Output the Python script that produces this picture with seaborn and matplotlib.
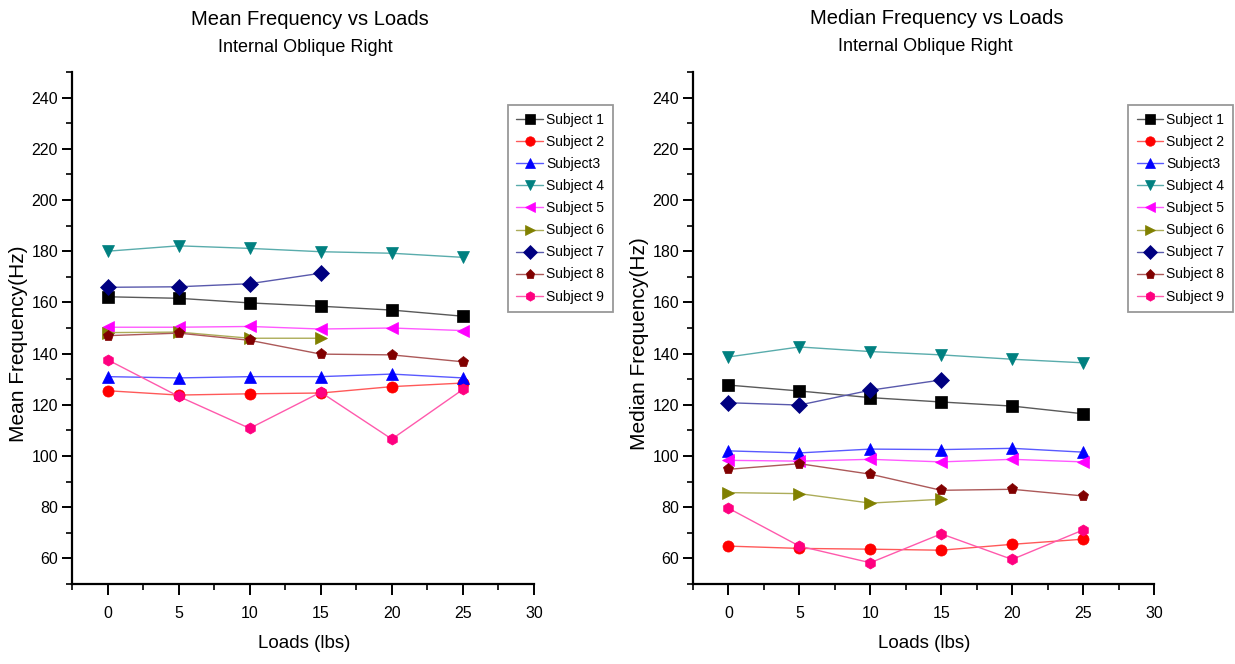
import matplotlib
matplotlib.use("Agg")
import matplotlib.pyplot as plt
from matplotlib.ticker import MultipleLocator
from matplotlib.colors import to_rgb
import seaborn as sns
import pandas as pd

# Loads applied (lbs)
loads = [0, 5, 10, 15, 20, 25]
subjects = ["Subject 1", "Subject 2", "Subject3", "Subject 4", "Subject 5",
            "Subject 6", "Subject 7", "Subject 8", "Subject 9"]

# Mean frequency (Hz) per subject
mean_s1 = [162.2, 161.6, 159.8, 158.5, 157.0, 154.6]
mean_s2 = [125.5, 123.8, 124.3, 124.6, 127.1, 128.5]
mean_s3 = [131.0, 130.5, 131.0, 131.0, 132.0, 130.5]
mean_s4 = [180.0, 182.1, 181.1, 179.8, 179.2, 177.6]
mean_s5 = [150.3, 150.3, 150.6, 149.6, 150.0, 149.0]
mean_s6 = [148.2, 148.4, 146.0, 146.0]
mean_s7 = [165.9, 166.1, 167.3, 171.4]
mean_s8 = [147.0, 148.0, 145.2, 139.8, 139.5, 136.8]
mean_s9 = [137.6, 123.3, 110.8, 124.9, 106.6, 126.0]

# Median frequency (Hz) per subject
med_s1 = [127.7, 125.4, 122.8, 121.1, 119.5, 116.5]
med_s2 = [64.8, 63.9, 63.6, 63.2, 65.5, 67.5]
med_s3 = [102.0, 101.2, 102.7, 102.5, 103.0, 101.5]
med_s4 = [138.7, 142.6, 140.8, 139.5, 137.8, 136.4]
med_s5 = [98.3, 98.0, 98.7, 97.7, 98.7, 97.7]
med_s6 = [85.7, 85.3, 81.6, 83.1]
med_s7 = [120.8, 119.9, 125.7, 129.7]
med_s8 = [94.8, 97.0, 92.9, 86.6, 87.0, 84.4]
med_s9 = [79.6, 64.8, 58.3, 69.6, 59.6, 71.1]

mean_series = [mean_s1, mean_s2, mean_s3, mean_s4, mean_s5,
               mean_s6, mean_s7, mean_s8, mean_s9]
median_series = [med_s1, med_s2, med_s3, med_s4, med_s5,
                 med_s6, med_s7, med_s8, med_s9]

colors = ["#000000", "#FF0000", "#0000FF", "#008080", "#FF00FF",
          "#808000", "#000080", "#800000", "#FF0080"]
marker_list = ["s", "o", "^", "v", "<", ">", "D", "p", "h"]
palette = dict(zip(subjects, colors))
markers = dict(zip(subjects, marker_list))


def lighten(c, amount=0.4):
    r, g, b = to_rgb(c)
    return (r + (1 - r) * amount, g + (1 - g) * amount, b + (1 - b) * amount)


def long_table(series):
    rows = []
    for name, vals in zip(subjects, series):
        for load, v in zip(loads, vals):
            rows.append({"Load": load, "Freq": v, "Subject": name})
    return pd.DataFrame(rows)


def style_line(ln):
    # solid markers, slightly paler connecting line
    full = ln.get_color()
    ln.set_markerfacecolor(full)
    ln.set_markeredgecolor(full)
    ln.set_color(lighten(full, 0.35))


sns.set_style("ticks")
plt.rcParams["font.family"] = ["Liberation Sans", "DejaVu Sans"]
plt.rcParams["axes.linewidth"] = 1.6
plt.rcParams["axes.edgecolor"] = "black"
plt.rcParams["axes.labelcolor"] = "black"
plt.rcParams["text.color"] = "black"
plt.rcParams["xtick.color"] = "black"
plt.rcParams["ytick.color"] = "black"
plt.rcParams["xtick.major.width"] = 1.4
plt.rcParams["ytick.major.width"] = 1.4
plt.rcParams["xtick.minor.width"] = 1.2
plt.rcParams["ytick.minor.width"] = 1.2

W, H = 1235, 664
fig = plt.figure(figsize=(W / 100, H / 100), dpi=100)
ax_left = fig.add_axes([72 / W, 1 - 584 / H, 462 / W, 512 / H])
ax_right = fig.add_axes([693 / W, 1 - 584 / H, 461 / W, 512 / H])

panels = [
    (ax_left, mean_series, "Mean Frequency vs Loads", "Mean Frequency(Hz)",
     (0.515, 1.102), (0.504, 1.047)),
    (ax_right, median_series, "Median Frequency vs Loads", "Median Frequency(Hz)",
     (0.529, 1.105), (0.503, 1.049)),
]

for ax, series, title, ylab, t1, t2 in panels:
    df = long_table(series)
    sns.lineplot(data=df, x="Load", y="Freq", hue="Subject", style="Subject",
                 hue_order=subjects, style_order=subjects,
                 palette=palette, markers=markers, dashes=False,
                 linewidth=1.0, markersize=8, markeredgewidth=0.5,
                 ax=ax, legend=True)
    # this also covers the legend proxy lines seaborn attaches to the axes
    for ln in ax.get_lines():
        style_line(ln)

    ax.set_xlim(-2.5, 30)
    ax.set_ylim(50, 250)
    ax.xaxis.set_major_locator(MultipleLocator(5))
    ax.xaxis.set_minor_locator(MultipleLocator(2.5))
    ax.set_yticks(range(60, 241, 20))
    ax.yaxis.set_minor_locator(MultipleLocator(10))
    ax.tick_params(axis="y", which="major", direction="out", length=7,
                   labelsize=11.5, pad=3)
    ax.tick_params(axis="x", which="major", direction="out", length=8,
                   labelsize=11.5, pad=8)
    ax.tick_params(axis="both", which="minor", direction="out", length=4)
    sns.despine(ax=ax)

    ax.set_xlabel("Loads (lbs)", fontsize=13.5)
    ax.xaxis.set_label_coords(0.502, -0.1)
    ax.set_ylabel(ylab, fontsize=15)
    ax.yaxis.set_label_coords(-0.095, 0.47)

    ax.text(*t1, title, transform=ax.transAxes,
            ha="center", va="center", fontsize=14.5)
    ax.text(*t2, "Internal Oblique Right", transform=ax.transAxes,
            ha="center", va="center", fontsize=13)

    handles, labels = ax.get_legend_handles_labels()
    leg = ax.legend(handles, labels, loc="upper left",
                    bbox_to_anchor=(0.944, 0.936),
                    borderaxespad=0, frameon=True, fancybox=False, shadow=False,
                    fontsize=10, handlelength=1.9, handletextpad=0.25,
                    labelspacing=0.58, borderpad=0.6, markerscale=0.85)
    leg.get_frame().set_edgecolor("#999999")
    leg.get_frame().set_linewidth(1.3)
    leg.get_frame().set_alpha(1)

fig.savefig("out.png", dpi=100, facecolor="white")
